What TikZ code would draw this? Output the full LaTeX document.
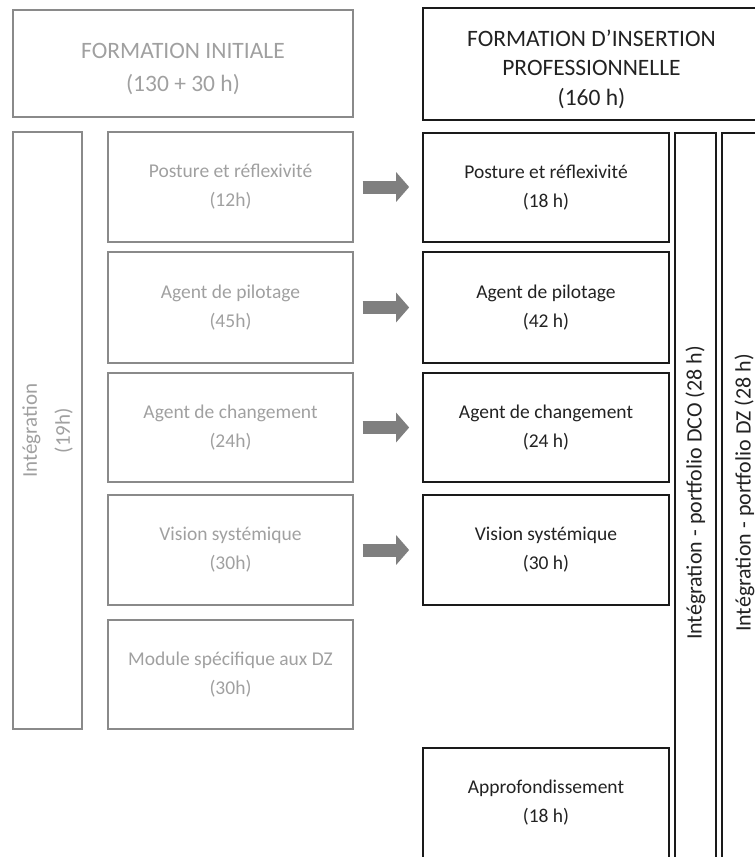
\documentclass[tikz,border=0pt]{standalone}
\usepackage{fontspec}
\setmainfont{Carlito}
\usetikzlibrary{arrows.meta}
\definecolor{lgray}{HTML}{A0A0A0}
\definecolor{lborder}{HTML}{8A8A8A}
\definecolor{dtext}{HTML}{222222}
\definecolor{dborder}{HTML}{1A1A1A}
\definecolor{arrowgray}{HTML}{7F7F7F}
\begin{document}
\begin{tikzpicture}[x=1pt,y=-1pt,
  lbox/.style={draw=lborder, line width=1.4pt, text=lgray, align=center, inner sep=0pt,
    font=\fontsize{19.5}{29}\selectfont},
  rbox/.style={draw=dborder, line width=1.7pt, text=dtext, align=center, inner sep=0pt,
    font=\fontsize{19.5}{29}\selectfont},
  lmod/.style={lbox, minimum width=245pt},
  rmod/.style={rbox, minimum width=246pt},
  barrow/.style={draw=arrowgray, line width=13pt, -{Triangle[length=13pt,width=29pt]}}
]
\useasboundingbox (0,0) rectangle (755,857);
\clip (0,0) rectangle (755,857);

% titles
\node[lbox, minimum width=340pt, minimum height=107pt,
  label={[text=lgray, align=center, font=\fontsize{23.5}{33}\selectfont, yshift=-6pt]center:FORMATION INITIALE\\(130 + 30 h)}]
  (fi) at (183,63.5) {};
\node[rbox, minimum width=337pt, minimum height=112pt,
  label={[text=dtext, align=center, font=\fontsize{23.5}{29.5}\selectfont, yshift=-5pt]center:FORMATION D’INSERTION\\PROFESSIONNELLE\\(160 h)}]
  (fip) at (591.5,64) {};

% left column
\node[lbox, rotate=90, minimum width=597pt, minimum height=69pt,
  font=\fontsize{21}{33}\selectfont] (integ) at (47.5,430.5) {Intégration\\(19h)};

\node[lmod, minimum height=110pt] (l1) at (230.5,187) {Posture et réflexivité\\(12h)};
\node[lmod, minimum height=111pt] (l2) at (230.5,307.5) {Agent de pilotage\\(45h)};
\node[lmod, minimum height=109pt] (l3) at (230.5,427.5) {Agent de changement\\(24h)};
\node[lmod, minimum height=110pt] (l4) at (230.5,550) {Vision systémique\\(30h)};
\node[lmod, minimum height=109pt] (l5) at (230.5,674.5) {Module spécifique aux DZ\\(30h)};

% right column
\node[rmod, minimum height=109pt] (r1) at (546,187.5) {Posture et réflexivité\\(18 h)};
\node[rmod, minimum height=111pt] (r2) at (546,307.5) {Agent de pilotage\\(42 h)};
\node[rmod, minimum height=109pt] (r3) at (546,427.5) {Agent de changement\\(24 h)};
\node[rmod, minimum height=110pt] (r4) at (546,550) {Vision systémique\\(30 h)};
\node[rmod, minimum height=120pt,
  label={[text=dtext, align=center, font=\fontsize{19.5}{29}\selectfont, yshift=5pt]center:Approfondissement\\(18 h)}]
  (r5) at (546,808) {};

\node[rbox, rotate=90, minimum width=740pt, minimum height=41pt,
  font=\fontsize{22}{26}\selectfont] (dco) at (695.5,503) {\hspace*{20pt}Intégration - portfolio DCO (28 h)};
\node[rbox, rotate=90, minimum width=740pt, minimum height=45pt,
  font=\fontsize{22}{26}\selectfont] (dz) at (744.5,503) {\hspace*{20pt}Intégration - portfolio DZ (28 h)};

% arrows
\draw[barrow] ([xshift=9pt]l1.east) -- ([xshift=-13pt]r1.west |- l1.east);
\draw[barrow] ([xshift=9pt]l2.east) -- ([xshift=-13pt]r2.west |- l2.east);
\draw[barrow] ([xshift=9pt]l3.east) -- ([xshift=-13pt]r3.west |- l3.east);
\draw[barrow] ([xshift=9pt]l4.east) -- ([xshift=-13pt]r4.west |- l4.east);
\end{tikzpicture}
\end{document}
